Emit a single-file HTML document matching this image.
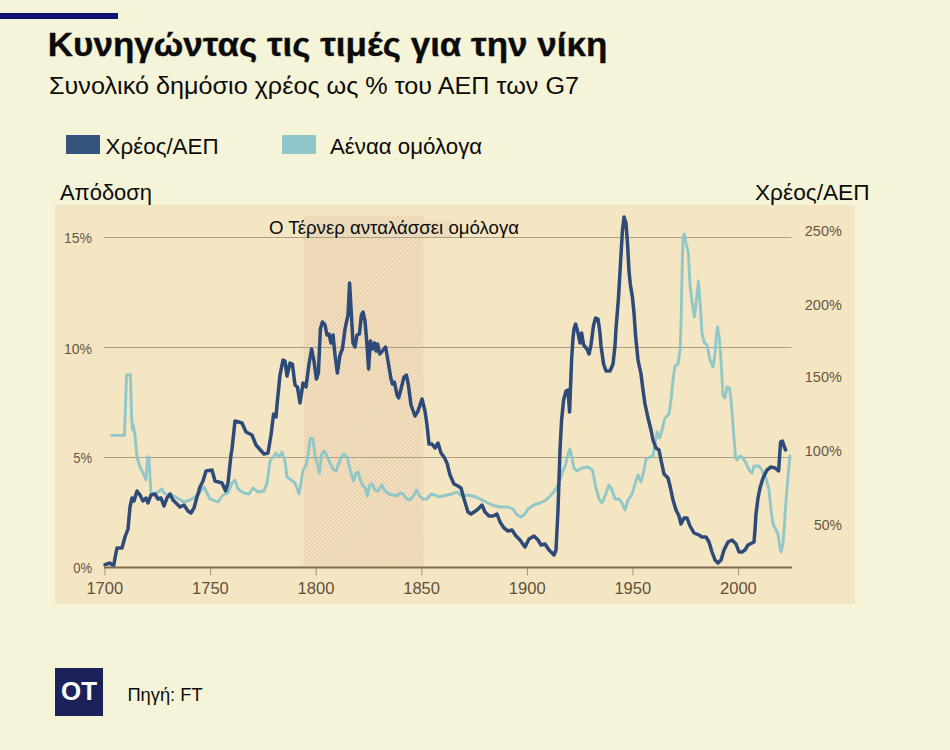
<!DOCTYPE html>
<html><head><meta charset="utf-8">
<style>
html,body{margin:0;padding:0}
body{width:950px;height:750px;background:#f6f4d8;position:relative;overflow:hidden;font-family:"Liberation Sans",sans-serif;color:#0b0b0b}
.abs{position:absolute;white-space:nowrap;line-height:1}
#bar{left:0;top:13px;width:118px;height:6px;background:#0e1470}
#title{left:49px;top:26px;font-size:33px;font-weight:bold;letter-spacing:0px}
#sub{left:50px;top:73px;font-size:23.5px}
.sw{position:absolute;top:135px;height:18.5px}
#sw1{left:65.5px;width:34px;background:#34537f}
#sw2{left:282px;width:34px;background:#8fc7ca}
.leg{top:134px;font-size:21px}
#yl{left:60px;top:181px;font-size:20.5px}
#yr{left:756px;top:181px;font-size:20.5px}
#panel{left:54.5px;top:205px;width:800px;height:399px;background:#f5e6c3}
#logo{left:55px;top:667.8px;width:48px;height:48px;background:#1c2259;color:#fff;font-weight:bold;font-size:22px;text-align:center;line-height:48px}
#src{left:129px;top:685px;font-size:18.5px}
svg{position:absolute;left:0;top:0}
.ax{font-family:"Liberation Sans",sans-serif;font-size:14.5px;fill:#65563f}
.xl{font-size:16px}
.ann{font-family:"Liberation Sans",sans-serif;font-size:17.5px;fill:#111}
</style></head><body>
<div id="bar" class="abs"></div>
<div id="sw1" class="sw"></div>
<div id="sw2" class="sw"></div>
<div id="panel" class="abs"></div>
<svg width="950" height="750" viewBox="0 0 950 750">
<defs><pattern id="h" width="2.8" height="2.8" patternUnits="userSpaceOnUse" patternTransform="rotate(-45)"><rect width="2.8" height="2.8" fill="#f5e5c6"/><rect width="2.8" height="1.15" fill="#e4c9a5"/></pattern></defs>
<rect x="303.5" y="216" width="120" height="351" fill="url(#h)"/>
<line x1="104" x2="791.5" y1="237.5" y2="237.5" stroke="#b0a083" stroke-width="1"/><line x1="104" x2="791.5" y1="347.5" y2="347.5" stroke="#b0a083" stroke-width="1"/><line x1="104" x2="791.5" y1="457.5" y2="457.5" stroke="#b0a083" stroke-width="1"/>
<rect x="303.5" y="220.6" width="148" height="16.4" fill="#e9d9bd" opacity="0.85"/>
<polyline points="111.6,435.4 124.4,435.4 126.6,375.0 130.4,375.0 131.6,415.0 132.4,430.0 133.0,424.0 135.0,435.0 137.0,457.0 140.0,467.0 143.0,473.0 146.0,480.0 147.6,457.0 149.0,457.0 150.4,483.0 151.0,493.0 155.0,494.0 158.0,492.0 162.0,489.0 164.0,493.0 168.0,495.0 172.0,495.0 177.0,498.0 184.0,502.0 190.0,500.0 198.0,495.0 204.0,487.0 207.0,493.0 210.0,499.0 218.0,502.0 223.0,495.0 228.0,493.0 232.0,483.0 235.0,480.0 238.0,489.0 244.0,493.0 249.0,494.0 253.0,488.0 258.0,492.0 264.0,491.0 267.0,483.0 270.0,461.0 276.0,453.0 279.0,457.0 282.0,452.0 285.0,461.0 287.0,477.0 291.0,480.0 295.0,483.0 299.0,494.0 301.0,483.0 303.0,470.0 306.0,466.0 308.0,455.0 310.4,438.0 313.0,439.0 315.0,455.0 317.0,463.0 319.4,473.0 321.4,455.0 324.0,451.0 327.0,456.0 330.0,463.0 333.0,469.0 336.0,471.0 339.0,463.0 342.0,456.0 344.0,454.0 347.0,457.0 349.0,465.0 351.0,473.0 353.6,481.0 356.0,473.0 358.0,472.0 360.0,479.0 363.0,486.0 365.0,487.0 367.4,496.0 369.4,486.0 372.0,484.0 375.0,490.0 378.0,491.0 382.0,485.0 385.0,491.0 389.0,494.0 393.0,495.0 396.0,496.0 400.0,493.0 403.0,494.0 407.0,499.0 410.0,500.0 414.0,495.0 416.6,490.0 419.4,496.0 423.0,499.0 427.0,499.0 431.0,494.0 435.0,495.0 439.0,497.0 443.0,496.0 447.0,495.0 452.0,494.0 457.0,492.0 460.0,495.0 464.0,496.0 468.0,495.0 476.0,497.0 484.0,501.0 492.0,505.0 500.0,507.0 508.0,507.0 513.0,509.0 517.0,515.0 521.0,517.0 525.0,514.0 528.0,509.0 534.0,505.0 540.0,503.0 546.0,500.0 552.0,494.0 556.0,489.0 560.0,480.0 563.0,470.0 565.0,467.0 568.0,454.0 570.0,449.0 572.0,458.0 574.0,468.0 577.0,471.0 582.0,468.0 588.0,467.0 592.4,470.0 594.0,478.0 596.0,488.0 599.0,499.0 602.0,503.0 605.0,496.0 609.0,485.0 612.0,490.0 615.0,499.0 619.0,499.0 622.0,503.0 625.0,510.0 628.0,500.0 632.0,494.0 635.0,484.0 638.0,475.0 641.0,482.0 644.0,470.0 646.0,459.0 650.0,457.0 653.0,456.0 655.0,444.0 657.0,432.0 659.6,438.0 662.0,430.0 665.0,418.0 669.0,414.0 671.0,400.0 673.0,380.0 675.0,366.0 678.0,364.0 680.0,350.0 681.0,325.0 682.0,275.0 683.0,237.0 684.4,234.0 686.0,243.0 688.4,253.0 690.0,285.0 692.0,301.0 694.4,317.0 696.4,301.0 698.4,281.0 700.0,301.0 702.0,333.0 704.0,342.0 707.0,345.0 710.0,360.0 713.0,367.0 715.0,354.0 716.4,335.0 717.6,327.0 719.2,337.0 720.6,355.0 721.6,370.0 723.0,396.0 725.0,398.0 727.0,387.0 729.6,388.0 731.0,400.0 732.4,418.0 734.0,438.0 735.6,458.0 737.0,460.0 740.0,456.0 743.0,458.0 746.0,463.0 749.0,470.0 752.0,473.0 754.0,466.0 759.0,466.0 762.0,470.0 763.0,473.0 766.0,478.0 769.0,490.0 771.0,510.0 773.0,524.0 776.0,530.0 778.0,534.0 780.0,548.0 781.0,552.0 783.0,544.0 784.4,526.0 785.6,506.0 787.0,488.0 789.0,466.0 790.0,456.0" fill="none" stroke="#8cc5c8" stroke-width="2.9" stroke-linejoin="round" stroke-linecap="round" opacity="0.95"/>
<polyline points="105.0,564.6 110.0,563.0 113.6,566.0 115.6,555.0 117.0,548.0 122.0,548.0 125.0,537.0 128.0,529.0 130.0,507.0 132.0,498.0 134.0,501.0 137.0,491.0 140.0,495.0 143.0,501.0 146.0,498.0 148.0,503.0 151.0,495.0 155.0,494.0 158.0,499.0 161.0,498.0 164.0,506.0 167.0,498.0 170.0,494.0 173.0,500.0 177.0,504.0 180.0,507.0 184.0,505.0 188.0,511.0 191.0,513.0 194.0,508.0 197.0,497.0 200.0,487.0 203.0,481.0 206.0,471.0 212.0,470.0 215.0,481.0 222.0,483.0 225.6,491.0 228.0,483.0 231.0,455.0 232.0,449.0 235.0,421.0 242.0,423.0 246.0,432.0 252.0,435.0 256.0,445.0 264.0,454.0 268.0,453.0 271.0,435.0 273.6,414.0 276.0,417.0 277.0,405.0 280.0,375.0 283.0,360.0 285.0,361.0 287.0,376.0 290.0,363.0 292.4,364.0 295.0,385.0 297.4,387.0 300.0,403.0 303.0,383.0 306.0,387.0 309.0,364.0 311.6,349.0 314.0,361.0 316.4,379.0 318.4,373.0 320.4,329.0 322.4,322.0 325.0,325.0 327.0,335.0 329.0,334.0 331.0,343.0 333.0,335.0 335.0,355.0 337.4,373.0 340.0,355.0 342.4,349.0 345.0,329.0 348.0,315.0 349.6,283.0 351.4,315.0 353.0,343.0 355.0,347.0 357.0,335.0 359.4,334.0 361.4,315.0 363.0,312.0 365.0,321.0 367.0,345.0 368.6,369.0 370.4,341.0 372.4,349.0 374.4,343.0 376.0,351.0 377.6,344.0 379.6,354.0 382.4,351.0 385.6,347.0 388.0,361.0 391.0,379.0 392.4,384.0 394.4,382.0 397.0,395.0 398.6,398.0 401.0,389.0 404.0,377.0 406.4,375.0 408.4,385.0 411.0,405.0 415.0,416.0 418.0,411.0 422.0,399.0 425.0,411.0 427.0,425.0 429.0,444.0 432.0,444.0 435.0,448.0 438.0,443.0 441.0,453.0 444.0,457.0 447.0,463.0 450.0,475.0 454.0,484.0 458.0,486.0 461.0,488.0 464.0,499.0 468.0,512.0 471.0,514.0 477.0,510.0 482.0,505.0 485.0,512.0 489.0,516.0 493.0,516.0 497.0,514.0 500.0,522.0 504.0,528.0 508.0,531.0 512.0,530.0 516.0,536.0 520.0,540.0 525.0,547.0 529.0,539.0 534.0,536.0 538.0,540.0 541.0,545.0 545.0,544.0 549.0,550.0 554.0,555.0 556.0,550.0 558.0,510.0 559.0,480.0 560.0,450.0 561.6,420.0 563.6,400.0 566.0,391.0 568.0,390.0 569.6,412.0 570.4,390.0 571.6,360.0 573.0,338.0 574.0,329.0 575.6,324.0 578.0,333.0 580.0,343.0 581.6,333.0 583.6,345.0 587.0,349.0 589.0,354.0 591.0,345.0 593.6,325.0 595.6,318.0 598.0,319.0 600.0,333.0 601.0,346.0 603.6,364.0 606.0,371.0 610.0,371.0 613.0,364.0 615.0,346.0 616.0,329.0 618.4,299.0 620.4,265.0 622.4,231.0 624.0,217.0 626.0,223.0 627.6,245.0 629.0,271.0 630.4,285.0 632.4,297.0 634.0,313.0 635.5,335.0 638.0,360.0 641.0,374.0 643.0,390.0 645.0,404.0 648.0,418.0 651.0,430.0 653.0,440.0 656.0,448.0 659.0,450.0 661.0,460.0 664.0,474.0 668.0,478.0 670.0,486.0 673.0,500.0 676.0,510.0 679.0,516.0 681.0,524.0 684.0,518.0 687.0,518.0 690.0,526.0 694.0,533.0 699.0,535.0 702.0,537.0 706.0,537.0 709.0,542.0 712.0,552.0 715.0,560.0 718.0,563.0 721.0,560.0 724.0,550.0 728.0,542.0 732.0,540.0 736.0,544.0 739.0,552.0 742.0,552.0 745.0,550.0 748.0,545.0 752.0,543.0 754.0,542.0 755.0,530.0 756.0,514.0 758.0,498.0 760.0,488.0 763.0,478.0 767.0,470.0 771.0,467.0 775.0,468.0 778.6,471.0 779.6,456.0 780.6,442.0 782.4,441.0 784.0,446.0 785.6,450.0" fill="none" stroke="#2d4a78" stroke-width="3.5" stroke-linejoin="round" stroke-linecap="round"/>
<line x1="104" x2="792" y1="567.5" y2="567.5" stroke="#7d6c50" stroke-width="2"/>
<line x1="105" x2="105" y1="568" y2="575.5" stroke="#a09074" stroke-width="1"/><line x1="210.6" x2="210.6" y1="568" y2="575.5" stroke="#a09074" stroke-width="1"/><line x1="316.2" x2="316.2" y1="568" y2="575.5" stroke="#a09074" stroke-width="1"/><line x1="421.8" x2="421.8" y1="568" y2="575.5" stroke="#a09074" stroke-width="1"/><line x1="527.4" x2="527.4" y1="568" y2="575.5" stroke="#a09074" stroke-width="1"/><line x1="633" x2="633" y1="568" y2="575.5" stroke="#a09074" stroke-width="1"/><line x1="738.6" x2="738.6" y1="568" y2="575.5" stroke="#a09074" stroke-width="1"/><text x="86.4" y="594" font-size="16.3" fill="#5f513b" textLength="36.8" lengthAdjust="spacingAndGlyphs" font-family="Liberation Sans, sans-serif">1700</text><text x="192.0" y="594" font-size="16.3" fill="#5f513b" textLength="36.8" lengthAdjust="spacingAndGlyphs" font-family="Liberation Sans, sans-serif">1750</text><text x="297.59999999999997" y="594" font-size="16.3" fill="#5f513b" textLength="36.8" lengthAdjust="spacingAndGlyphs" font-family="Liberation Sans, sans-serif">1800</text><text x="403.2" y="594" font-size="16.3" fill="#5f513b" textLength="36.8" lengthAdjust="spacingAndGlyphs" font-family="Liberation Sans, sans-serif">1850</text><text x="508.79999999999995" y="594" font-size="16.3" fill="#5f513b" textLength="36.8" lengthAdjust="spacingAndGlyphs" font-family="Liberation Sans, sans-serif">1900</text><text x="614.4" y="594" font-size="16.3" fill="#5f513b" textLength="36.8" lengthAdjust="spacingAndGlyphs" font-family="Liberation Sans, sans-serif">1950</text><text x="720.0" y="594" font-size="16.3" fill="#5f513b" textLength="36.8" lengthAdjust="spacingAndGlyphs" font-family="Liberation Sans, sans-serif">2000</text><text x="64" y="243" font-size="15.3" fill="#65563f" textLength="28.0" lengthAdjust="spacingAndGlyphs" font-family="Liberation Sans, sans-serif">15%</text><text x="64" y="353.5" font-size="15.3" fill="#65563f" textLength="28.0" lengthAdjust="spacingAndGlyphs" font-family="Liberation Sans, sans-serif">10%</text><text x="73.2" y="463" font-size="15.3" fill="#65563f" textLength="18.8" lengthAdjust="spacingAndGlyphs" font-family="Liberation Sans, sans-serif">5%</text><text x="73.2" y="573" font-size="15.3" fill="#65563f" textLength="18.8" lengthAdjust="spacingAndGlyphs" font-family="Liberation Sans, sans-serif">0%</text><text x="804.8" y="236.3" font-size="15.3" fill="#65563f" textLength="37.0" lengthAdjust="spacingAndGlyphs" font-family="Liberation Sans, sans-serif">250%</text><text x="804.8" y="309.5" font-size="15.3" fill="#65563f" textLength="37.0" lengthAdjust="spacingAndGlyphs" font-family="Liberation Sans, sans-serif">200%</text><text x="804.8" y="382.3" font-size="15.3" fill="#65563f" textLength="37.0" lengthAdjust="spacingAndGlyphs" font-family="Liberation Sans, sans-serif">150%</text><text x="804.8" y="456.4" font-size="15.3" fill="#65563f" textLength="37.0" lengthAdjust="spacingAndGlyphs" font-family="Liberation Sans, sans-serif">100%</text><text x="814" y="529.8" font-size="15.3" fill="#65563f" textLength="27.8" lengthAdjust="spacingAndGlyphs" font-family="Liberation Sans, sans-serif">50%</text>
<text x="269" y="233.6" font-size="18.5" fill="#0b0b0b" textLength="250.0" lengthAdjust="spacingAndGlyphs" font-family="Liberation Sans, sans-serif">Ο Τέρνερ ανταλάσσει ομόλογα</text>
<text stroke="#0b0b0b" stroke-width="0.35" x="47.8" y="55.6" font-size="33.5" font-weight="bold" fill="#0b0b0b" textLength="559.6" lengthAdjust="spacingAndGlyphs" font-family="Liberation Sans, sans-serif">Κυνηγώντας τις τιμές για την νίκη</text>
<text x="49" y="94.4" font-size="23" fill="#0b0b0b" textLength="530.0" lengthAdjust="spacingAndGlyphs" font-family="Liberation Sans, sans-serif">Συνολικό δημόσιο χρέος ως % του ΑΕΠ των G7</text>
<text x="105.6" y="153.6" font-size="22" fill="#0b0b0b" textLength="113.0" lengthAdjust="spacingAndGlyphs" font-family="Liberation Sans, sans-serif">Χρέος/ΑΕΠ</text>
<text x="330" y="153.5" font-size="22" fill="#0b0b0b" textLength="152.2" lengthAdjust="spacingAndGlyphs" font-family="Liberation Sans, sans-serif">Αέναα ομόλογα</text>
<text x="60" y="199.6" font-size="21.8" fill="#0b0b0b" textLength="92.0" lengthAdjust="spacingAndGlyphs" font-family="Liberation Sans, sans-serif">Απόδοση</text>
<text x="755" y="200" font-size="21.8" fill="#0b0b0b" textLength="114.6" lengthAdjust="spacingAndGlyphs" font-family="Liberation Sans, sans-serif">Χρέος/ΑΕΠ</text>
<text x="127.4" y="700.6" font-size="19" fill="#0b0b0b" textLength="75.2" lengthAdjust="spacingAndGlyphs" font-family="Liberation Sans, sans-serif">Πηγή: FT</text>
</svg>
<div id="logo" class="abs"></div>
<svg width="950" height="750" viewBox="0 0 950 750"><text x="61" y="700" font-size="25.5" font-weight="bold" fill="#fff" textLength="36.0" lengthAdjust="spacingAndGlyphs" font-family="Liberation Sans, sans-serif">OT</text></svg>
</body></html>
